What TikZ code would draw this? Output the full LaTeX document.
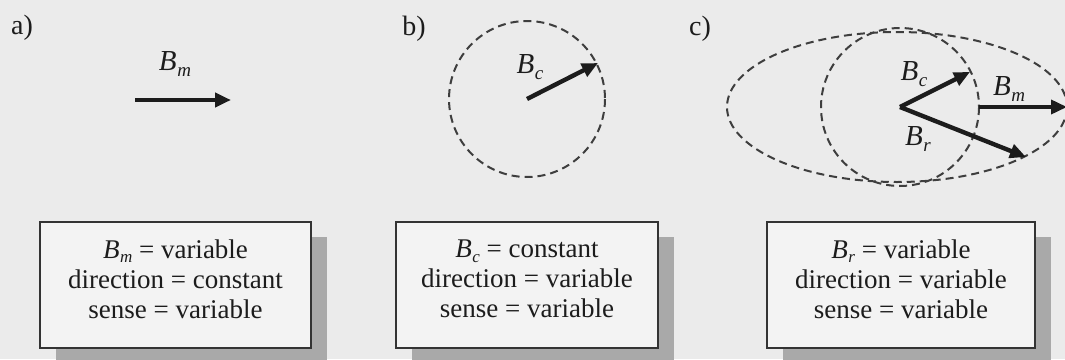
\documentclass[tikz,border=0pt]{standalone}
\usepackage{fontspec}
\setmainfont{Liberation Serif}
\usetikzlibrary{arrows.meta,shadows}
\definecolor{bg}{HTML}{EBEBEB}
\definecolor{boxfill}{HTML}{F3F3F3}
\definecolor{ink}{HTML}{1C1C1C}
\definecolor{shade}{HTML}{A9A9A9}
\newcommand{\Bv}[1]{\textit{B}\kern0.02em\raisebox{-0.22em}{\fontsize{19}{19}\selectfont\textit{#1}}}
\newcommand{\Bt}[1]{\textit{B}\kern0.02em\raisebox{-0.16em}{\fontsize{17}{17}\selectfont\textit{#1}}}
\tikzset{
  lbl/.style={font=\fontsize{28}{30}\selectfont, text=ink, inner sep=0pt},
  vlbl/.style={font=\fontsize{29}{30}\selectfont, text=ink, inner sep=0pt},
  vec/.style={line width=4.4pt, draw=ink, -{Triangle[length=16pt,width=14pt]}},
  locus/.style={draw=ink!85, line width=2pt, dash pattern=on 8pt off 5pt},
  infobox/.style={draw=ink!90, line width=1.8pt, fill=boxfill, minimum height=126pt,
    drop shadow={shadow xshift=16pt, shadow yshift=-15pt, opacity=1, fill=shade}},
  boxtext/.style={align=center, font=\fontsize{27}{30}\selectfont, text=ink, inner sep=0pt}
}
\begin{document}
\begin{tikzpicture}[x=1pt,y=-1pt]
\useasboundingbox[fill=bg] (0,0) rectangle (1065,359);
% panel labels
\node[lbl] (la) at (22,28) {a)};
\node[lbl] (lb) at (414,29) {b)};
\node[lbl] (lc) at (700,29) {c)};
% panel a
\coordinate (a0) at (135,100);
\coordinate (a1) at (231,100);
\draw[vec] (a0) -- (a1);
\node[vlbl] (Bma) at (175,64) {\Bv{m}};
% panel b
\coordinate (bc) at (527,99);
\draw[locus] (bc) circle[radius=78];
\coordinate (b1) at (598,63);
\draw[vec] (bc) -- (b1);
\node[vlbl] (Bcb) at (530,67) {\Bv{c}};
% panel c
\coordinate (cc) at (900,107);
\draw[locus] (897,107) ellipse[x radius=170, y radius=75];
\draw[locus] (cc) circle[radius=79];
\coordinate (c1) at (970,72);
\coordinate (c2) at (1026,157);
\coordinate (m0) at (979,107);
\coordinate (m1) at (1067,107);
\draw[vec] (cc) -- (c1);
\draw[vec] (cc) -- (c2);
\draw[vec, line width=3.6pt] (m0) -- (m1);
\node[vlbl] (Bcc) at (914,74) {\Bv{c}};
\node[vlbl] (Bmc) at (1009,89) {\Bv{m}};
\node[vlbl] (Brc) at (918,139) {\Bv{r}};
% boxes
\node[infobox, minimum width=271pt] (box1) at (175.5,285) {};
\node[boxtext] (t1) at ([yshift=6pt]box1.center) {\Bt{m} = variable\\direction = constant\\sense = variable};
\node[infobox, minimum width=262pt] (box2) at (527,285) {};
\node[boxtext] (t2) at ([yshift=6pt]box2.center) {\Bt{c} = constant\\direction = variable\\sense = variable};
\node[infobox, minimum width=268pt] (box3) at (901,285) {};
\node[boxtext] (t3) at ([yshift=6pt]box3.center) {\Bt{r} = variable\\direction = variable\\sense = variable};
\end{tikzpicture}
\end{document}
